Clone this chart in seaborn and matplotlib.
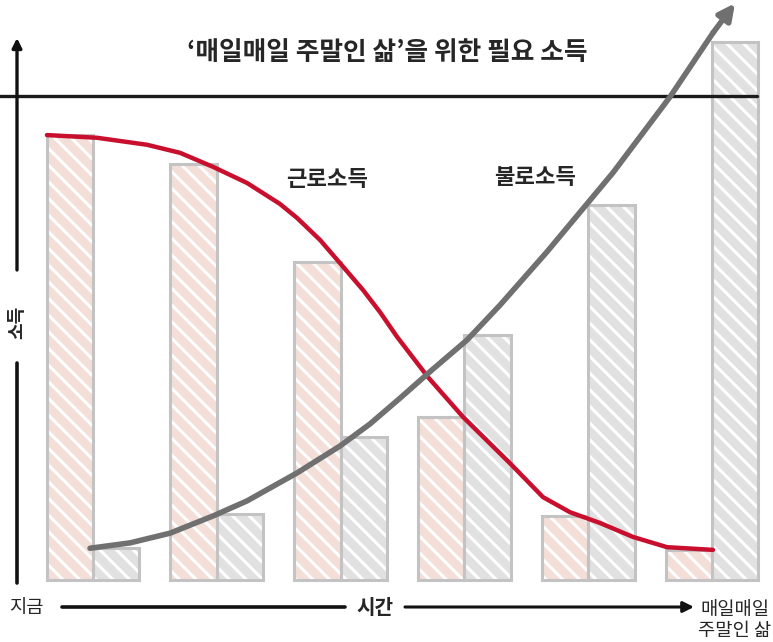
import numpy as np
import pandas as pd
import matplotlib
matplotlib.use('Agg')
import matplotlib.pyplot as plt
import seaborn as sns

sns.set_style('white')
plt.rcParams['font.family'] = ['Noto Sans CJK KR', 'DejaVu Sans']
plt.rcParams['hatch.linewidth'] = 2.2

# ---------------------------------------------------------------------------
# data (arbitrary income units)
# ---------------------------------------------------------------------------
stages = ['t1', 't2', 't3', 't4', 't5', 't6']
earned = [82.7, 77.3, 59.1, 30.3, 11.9, 5.6]      # 근로소득 bars
passive = [5.9, 12.3, 26.6, 45.5, 69.7, 100.0]    # 불로소득 bars
need_income = 90.0                                # 필요 소득 line

# hand-drawn curves (x in category units, y in income units)
earned_curve_x = [-0.372, 0.032, 0.436, 0.703, 0.969, 1.244, 1.510, 1.648, 1.834,
                  1.995, 2.181, 2.318, 2.456, 2.706, 2.989, 3.368, 3.635, 3.853,
                  4.095, 4.362, 4.637, 5.008]
earned_curve_y = [82.7, 82.2, 80.9, 79.4, 76.8, 73.8, 69.9, 67.3, 63.2,
                  58.9, 53.9, 49.8, 45.2, 37.7, 30.3, 21.7, 15.4, 12.6,
                  10.6, 8.0, 6.1, 5.6]
passive_curve_x = [-0.024, 0.299, 0.622, 0.969, 1.244, 1.648, 1.995, 2.237, 2.480,
                   2.746, 3.021, 3.288, 3.667, 4.200, 4.661, 5.008, 5.186]
passive_curve_y = [5.9, 6.9, 8.7, 11.9, 14.7, 19.9, 24.9, 29.0, 33.8,
                   39.2, 44.6, 51.1, 61.0, 75.7, 89.8, 101.7, 107.2]

PINK = '#f8dbd3'
GREY = '#e1e1e1'
EDGE = '#c3c3c3'
RED = '#c8102e'
DARK = '#707070'

df = pd.DataFrame({
    'stage': stages * 2,
    'kind': ['근로소득'] * 6 + ['불로소득'] * 6,
    'income': earned + passive,
})

fig = plt.figure(figsize=(7.73, 6.42), dpi=100)
ax = fig.add_axes([0, 0, 1, 1])

# filled bars with white streaks
sns.barplot(data=df, x='stage', y='income', hue='kind', palette=[PINK, GREY],
            width=0.75, edgecolor='white', linewidth=0, hatch='\\\\',
            legend=False, ax=ax)
# sketchy grey outlines
sns.barplot(data=df, x='stage', y='income', hue='kind', palette=[EDGE, EDGE],
            width=0.75, fill=False, linewidth=2.2, legend=False, ax=ax)

# required-income line
ax.axhline(need_income, xmin=0, xmax=757 / 773, color='#1a1a1a', lw=2.4)

# earned income curve
sns.lineplot(x=earned_curve_x, y=earned_curve_y, color=RED, lw=3.2, ax=ax,
             solid_joinstyle='round', solid_capstyle='round')

# passive income curve with arrow head
sns.lineplot(x=passive_curve_x[:-1], y=passive_curve_y[:-1], color=DARK, lw=4, ax=ax,
             solid_joinstyle='round', solid_capstyle='round')
ax.annotate('', xy=(passive_curve_x[-1], passive_curve_y[-1]),
            xytext=(passive_curve_x[-2], passive_curve_y[-2]),
            arrowprops=dict(arrowstyle='-|>', color=DARK, lw=4, mutation_scale=24,
                            shrinkA=0, shrinkB=0))

ax.set_xlim(-93 / 123.8, 680 / 123.8)
ax.set_ylim(-62 / 5.38, 580 / 5.38)
ax.set_axis_off()

# ---------------------------------------------------------------------------
# axes drawn by hand + labels (figure pixel coordinates)
# ---------------------------------------------------------------------------
H = 642
arrow_k = dict(arrowstyle='-|>', color='#111111', lw=2.4, mutation_scale=14,
               shrinkA=0, shrinkB=0)
line_k = dict(arrowstyle='-', color='#111111', lw=2.6, shrinkA=0, shrinkB=0)

# y axis
ax.annotate('', xy=(17, H - 38), xytext=(17, H - 270), xycoords='figure pixels',
            textcoords='figure pixels', arrowprops=arrow_k)
ax.annotate('', xy=(17, H - 363), xytext=(17, H - 583), xycoords='figure pixels',
            textcoords='figure pixels', arrowprops=line_k)
fig.text(17, H - 322, '소득', transform=None, rotation=90, ha='center', va='center',
         fontsize=13, fontweight='black')

# x axis
ax.annotate('', xy=(345, H - 607), xytext=(62, H - 607), xycoords='figure pixels',
            textcoords='figure pixels', arrowprops=line_k)
ax.annotate('', xy=(694, H - 607), xytext=(405, H - 607), xycoords='figure pixels',
            textcoords='figure pixels',
            arrowprops=dict(arrowstyle='-|>', color='#111111', lw=2.2,
                            mutation_scale=16, shrinkA=0, shrinkB=0))
fig.text(26, H - 607, '지금', transform=None, ha='center', va='center', fontsize=13.5)
fig.text(375, H - 607, '시간', transform=None, ha='center', va='center',
         fontsize=14.5, fontweight='black')
fig.text(735, H - 620, '매일매일\n주말인 삶', transform=None, ha='center', va='center',
         fontsize=13.5, linespacing=1.0)

# title and series labels
fig.text(387, H - 52, '‘매일매일 주말인 삶’을 위한 필요 소득', transform=None,
         ha='center', va='center', fontsize=18.5, fontweight='black')
fig.text(327, H - 180, '근로소득', transform=None, ha='center', va='center',
         fontsize=16, fontweight='black')
fig.text(535, H - 178, '불로소득', transform=None, ha='center', va='center',
         fontsize=16, fontweight='black')

fig.savefig('out.png', dpi=100, facecolor='white')
